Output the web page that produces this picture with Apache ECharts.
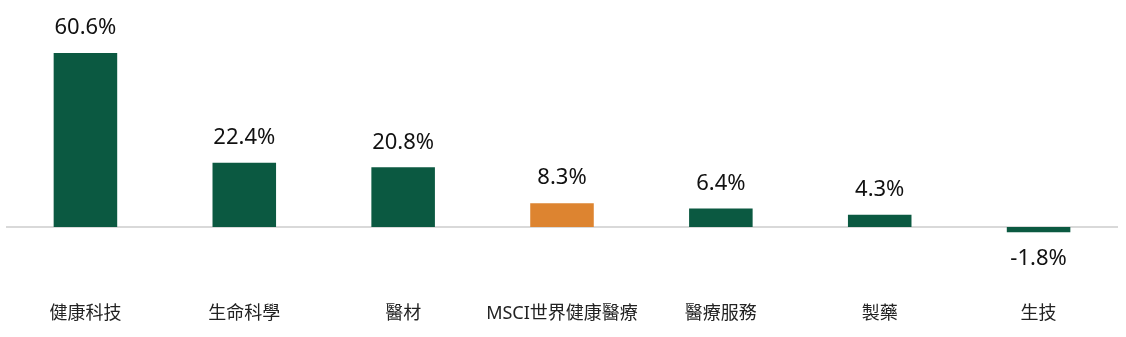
<!DOCTYPE html>
<html><head><meta charset="utf-8">
<script src="https://cdn.jsdelivr.net/npm/echarts@6/dist/echarts.min.js"></script>
<style>html,body{margin:0;padding:0;background:#fff}#c{width:1126px;height:337px}</style>
</head><body><div id="c"></div>
<script>
const categories = ['健康科技','生命科學','醫材','MSCI世界健康醫療','醫療服務','製藥','生技'];
const values = [60.6, 22.4, 20.8, 8.3, 6.4, 4.3, -1.8];
const highlightIndex = 3;
const GREEN = '#0b5941', ORANGE = '#dd8430';
const chart = echarts.init(document.getElementById('c'));
chart.setOption({
  animation: false,
  grid: {left: 6, right: 8, top: 26, bottom: 38.25, containLabel: false},
  xAxis: {
    type: 'category', data: categories,
    axisLine: {show: false, onZero: false}, axisTick: {show: false},
    axisLabel: {interval: 0, color: '#222', fontSize: 18, fontFamily: '"Noto Sans", "Noto Sans CJK TC", sans-serif', margin: 6}
  },
  yAxis: {type: 'value', min: -25, max: 70, show: false, splitLine: {show: false}},
  series: [{
    type: 'bar', barWidth: '40%',
    data: values.map((v, i) => ({value: v, itemStyle: {color: i === highlightIndex ? ORANGE : GREEN},
      label: {position: v < 0 ? 'bottom' : 'top', distance: v < 0 ? 16 : 14}})),
    label: {show: true, color: '#111', fontSize: 22, fontFamily: '"Noto Sans", sans-serif',
      formatter: p => p.value.toFixed(1) + '%'},
    markLine: {silent: true, symbol: 'none', label: {show: false},
      lineStyle: {color: '#d9d9d9', width: 2, type: 'solid'}, data: [{yAxis: 0}], z: 1},
    z: 2
  }]
});
</script></body></html>
